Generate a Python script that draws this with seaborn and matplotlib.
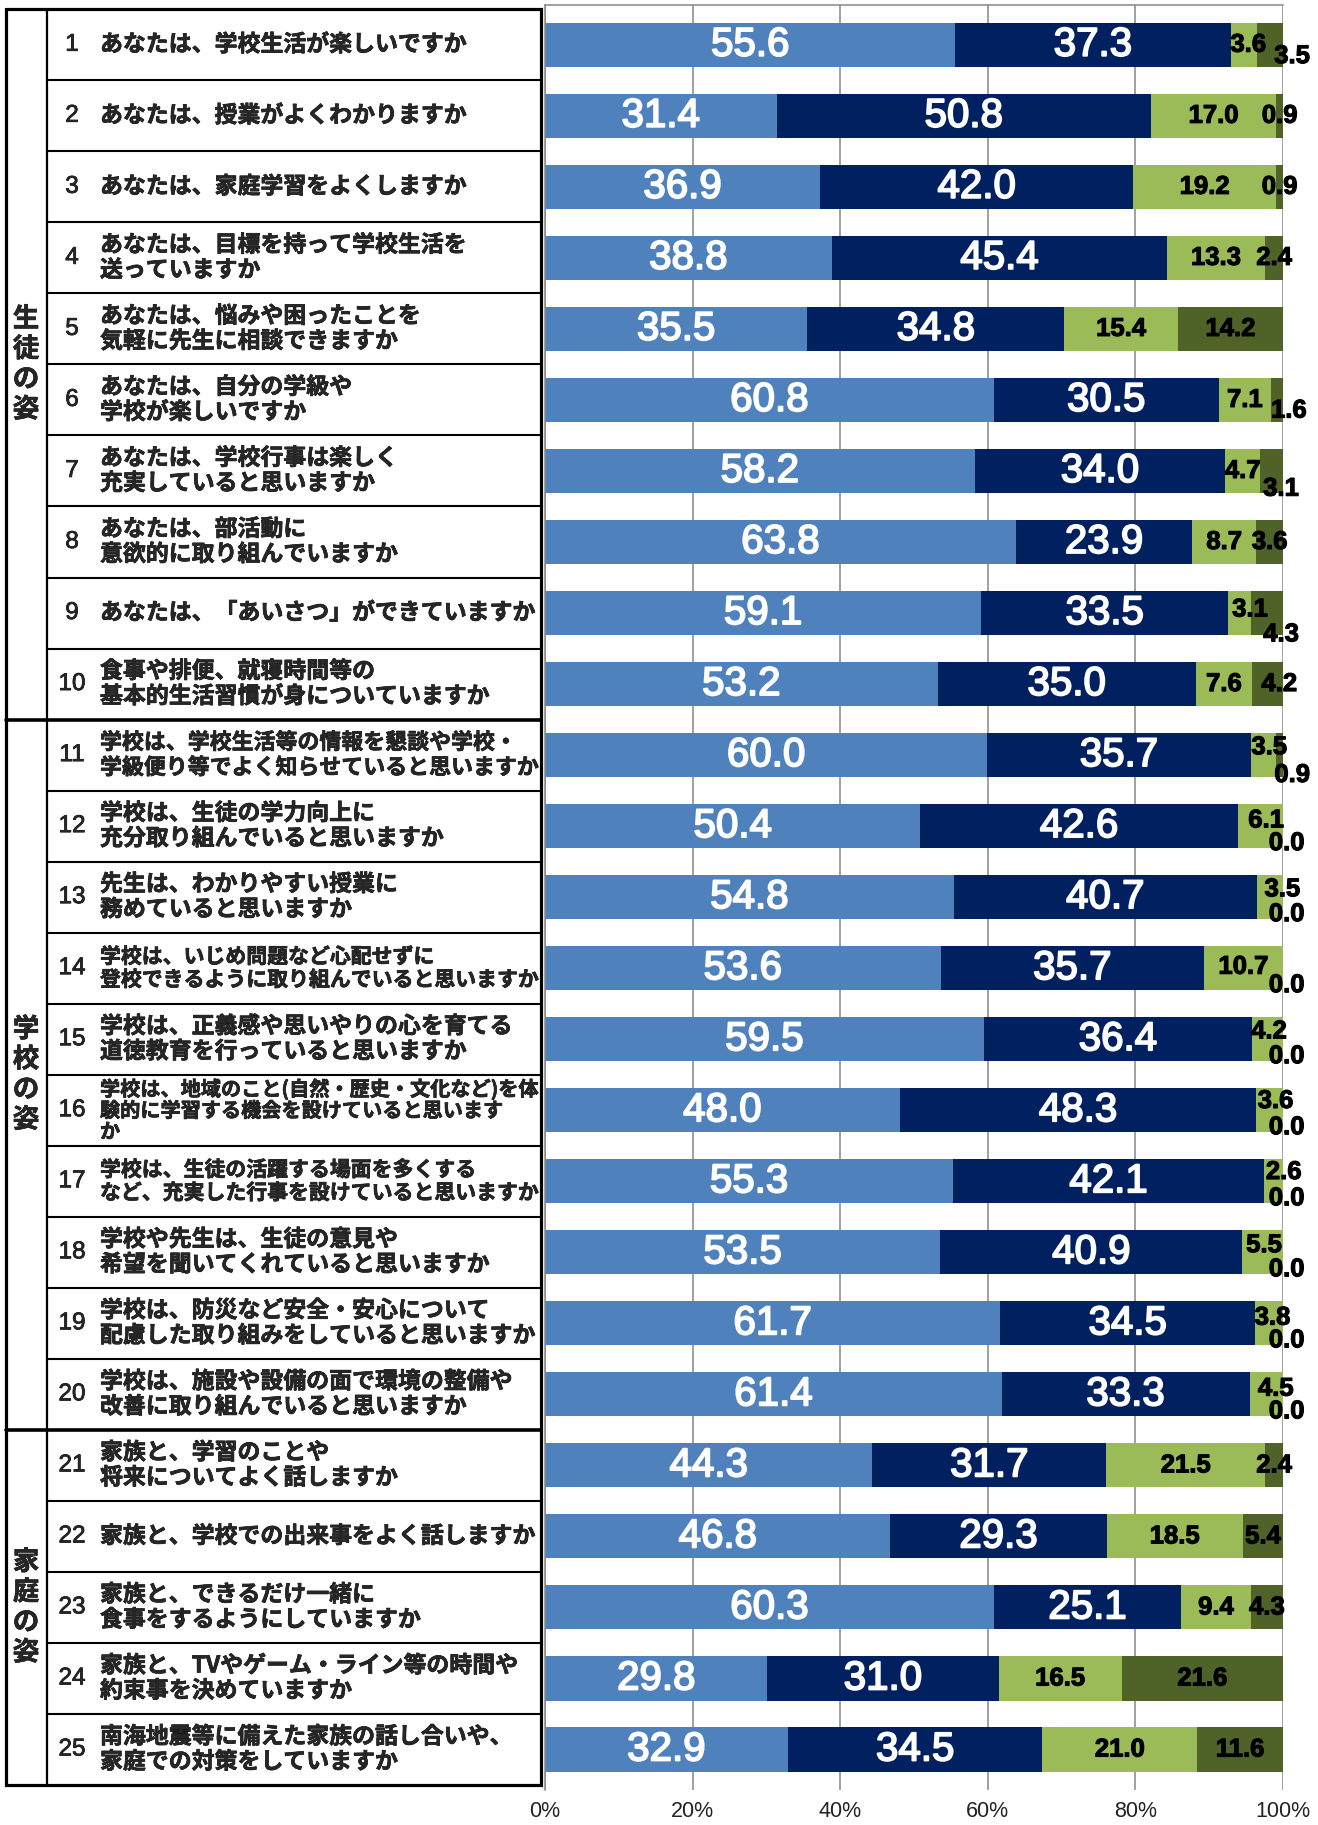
import matplotlib
matplotlib.use('Agg')
import matplotlib.pyplot as plt
import matplotlib.patheffects as pe
import seaborn as sns
import pandas as pd
from matplotlib.patches import Rectangle

# 質問項目
numbers = [str(n) for n in range(1, 26)]
questions = [
    'あなたは、学校生活が楽しいですか',
    'あなたは、授業がよくわかりますか',
    'あなたは、家庭学習をよくしますか',
    'あなたは、目標を持って学校生活を\n送っていますか',
    'あなたは、悩みや困ったことを\n気軽に先生に相談できますか',
    'あなたは、自分の学級や\n学校が楽しいですか',
    'あなたは、学校行事は楽しく\n充実していると思いますか',
    'あなたは、部活動に\n意欲的に取り組んでいますか',
    'あなたは、「あいさつ」ができていますか',
    '食事や排便、就寝時間等の\n基本的生活習慣が身についていますか',
    '学校は、学校生活等の情報を懇談や学校・\n学級便り等でよく知らせていると思いますか',
    '学校は、生徒の学力向上に\n充分取り組んでいると思いますか',
    '先生は、わかりやすい授業に\n務めていると思いますか',
    '学校は、いじめ問題など心配せずに\n登校できるように取り組んでいると思いますか',
    '学校は、正義感や思いやりの心を育てる\n道徳教育を行っていると思いますか',
    '学校は、地域のこと(自然・歴史・文化など)を体\n験的に学習する機会を設けていると思います\nか',
    '学校は、生徒の活躍する場面を多くする\nなど、充実した行事を設けていると思いますか',
    '学校や先生は、生徒の意見や\n希望を聞いてくれていると思いますか',
    '学校は、防災など安全・安心について\n配慮した取り組みをしていると思いますか',
    '学校は、施設や設備の面で環境の整備や\n改善に取り組んでいると思いますか',
    '家族と、学習のことや\n将来についてよく話しますか',
    '家族と、学校での出来事をよく話しますか',
    '家族と、できるだけ一緒に\n食事をするようにしていますか',
    '家族と、TVやゲーム・ライン等の時間や\n約束事を決めていますか',
    '南海地震等に備えた家族の話し合いや、\n家庭での対策をしていますか',
]
group_names = ['生徒の姿', '学校の姿', '家庭の姿']
group_sizes = [10, 10, 5]

# 回答の割合 (%)
agree = [55.6, 31.4, 36.9, 38.8, 35.5, 60.8, 58.2, 63.8, 59.1, 53.2,
         60.0, 50.4, 54.8, 53.6, 59.5, 48.0, 55.3, 53.5, 61.7, 61.4,
         44.3, 46.8, 60.3, 29.8, 32.9]
some_agree = [37.3, 50.8, 42.0, 45.4, 34.8, 30.5, 34.0, 23.9, 33.5, 35.0,
              35.7, 42.6, 40.7, 35.7, 36.4, 48.3, 42.1, 40.9, 34.5, 33.3,
              31.7, 29.3, 25.1, 31.0, 34.5]
some_disagree = [3.6, 17.0, 19.2, 13.3, 15.4, 7.1, 4.7, 8.7, 3.1, 7.6,
                 3.5, 6.1, 3.5, 10.7, 4.2, 3.6, 2.6, 5.5, 3.8, 4.5,
                 21.5, 18.5, 9.4, 16.5, 21.0]
disagree = [3.5, 0.9, 0.9, 2.4, 14.2, 1.6, 3.1, 3.6, 4.3, 4.2,
            0.9, 0.0, 0.0, 0.0, 0.0, 0.0, 0.0, 0.0, 0.0, 0.0,
            2.4, 5.4, 4.3, 21.6, 11.6]

colors = ['#4F81BD', '#002060', '#9BBB59', '#4F6228']

# ラベルの位置調整 (横: %, 縦: 行)
nudge3 = {0: (0.6, 0), 8: (1.4, -0.05), 10: (0.8, -0.11), 11: (0.8, -0.08),
          12: (1.7, -0.11), 13: (0, -0.02), 14: (0.2, -0.11), 15: (0.8, -0.13),
          16: (1.4, -0.13), 17: (0.2, -0.1), 18: (0.5, -0.08), 19: (1.3, -0.08)}
nudge4 = {0: (3.0, 0.16), 5: (1.6, 0.15), 6: (1.3, 0.25), 8: (1.9, 0.3),
          9: (1.6, 0), 10: (1.7, 0.28)}
for r in range(11, 20):
    nudge4[r] = (0.5, 0.24)

df = pd.DataFrame({'q': numbers, 'a': agree, 'b': some_agree,
                   'c': some_disagree, 'd': disagree})
# 100%積み上げ (合計で正規化)
total = df[['a', 'b', 'c', 'd']].sum(axis=1)
for col in ['a', 'b', 'c', 'd']:
    df[col + '_pct'] = df[col] / total * 100
df['c1'] = df['a_pct']
df['c2'] = df['c1'] + df['b_pct']
df['c3'] = df['c2'] + df['c_pct']
df['c4'] = df['c3'] + df['d_pct']

sns.set_style('white')
plt.rcParams['font.family'] = ['Liberation Sans', 'Noto Sans CJK JP', 'DejaVu Sans']

W, H = 1318, 1825
fig = plt.figure(figsize=(W / 100, H / 100), dpi=100)
top_px, bot_px = 5, 1790
ax = fig.add_axes([545 / W, 1 - bot_px / H, (1283 - 545) / W, (bot_px - top_px) / H])

for col, color in zip(['c4', 'c3', 'c2', 'c1'], colors[::-1]):
    sns.barplot(data=df, x=col, y='q', color=color, orient='h', width=0.62,
                saturation=1, errorbar=None, linewidth=0, ax=ax)

ax.set_xlim(0, 100)
ax.set_ylim(24.57, -0.56)
ax.set_xticks([0, 20, 40, 60, 80, 100])
ax.set_xticklabels(['0%', '20%', '40%', '60%', '80%', '100%'], fontsize=15.5, color='#222222')
ax.tick_params(axis='x', length=0, pad=8)
ax.tick_params(axis='y', length=0)
ax.set_yticklabels([])
ax.set_xlabel('')
ax.set_ylabel('')
ax.xaxis.grid(True, color='#868686', lw=1.1)
ax.set_axisbelow(True)
for s in ['right', 'bottom']:
    ax.spines[s].set_visible(False)
for s in ['top', 'left']:
    ax.spines[s].set_color('#868686')
    ax.spines[s].set_linewidth(1.1)

# 数値ラベル
white_fx = [pe.withStroke(linewidth=1.3, foreground='white')]
black_fx = [pe.withStroke(linewidth=0.8, foreground='black')]
segs = ['a', 'b', 'c', 'd']
for i in range(len(numbers)):
    left = 0
    for k, col in enumerate(segs):
        v = df.loc[i, col]
        w = df.loc[i, col + '_pct']
        x = left + w / 2
        if k < 2:
            ax.text(x, i, f'{v:.1f}', ha='center', va='center', color='white',
                    fontsize=29, path_effects=white_fx)
        else:
            dx, dy = (nudge3 if k == 2 else nudge4).get(i, (0, 0))
            ax.text(x + dx, i + dy, f'{v:.1f}', ha='center', va='center',
                    color='black', fontsize=18.5, fontweight='bold', clip_on=False,
                    path_effects=black_fx)
        left += w

# 左側の表
ax_t = fig.add_axes([6 / W, 1 - bot_px / H, (541 - 6) / W, (bot_px - top_px) / H], sharey=ax)
ax_t.set_xlim(6, 541)
ax_t.axis('off')
n = len(numbers)
ax_t.plot([6, 541, 541, 6, 6], [-0.5, -0.5, n - 0.5, n - 0.5, -0.5], color='black',
          lw=2.3, clip_on=False, solid_joinstyle='miter')
ax_t.plot([47, 47], [-0.5, n - 0.5], color='black', lw=1.6, clip_on=False)
bounds = []
acc = 0
for g in group_sizes:
    bounds.append((acc, acc + g))
    acc += g
group_edges = [b[1] - 0.5 for b in bounds[:-1]]
for i in range(n - 1):
    yb = i + 0.5
    if yb in group_edges:
        ax_t.plot([6, 541], [yb, yb], color='black', lw=2.6, clip_on=False)
    else:
        ax_t.plot([47, 541], [yb, yb], color='black', lw=1.5, clip_on=False)

cjk_fx = [pe.withStroke(linewidth=0.45, foreground='black')]
for name, (a, b) in zip(group_names, bounds):
    ax_t.text(26, (a + b - 1) / 2, '\n'.join(name), ha='center', va='center',
              fontsize=19, fontweight='bold', linespacing=1.15,
              family=['Noto Sans CJK JP', 'DejaVu Sans'], path_effects=cjk_fx)

q_texts = []
for i, (num, q) in enumerate(zip(numbers, questions)):
    ax_t.text(72, i, num, ha='center', va='center', fontsize=17.5,
              path_effects=[pe.withStroke(linewidth=0.5, foreground='black')])
    t = ax_t.text(100, i, q, ha='left', va='center', fontsize=16.5, fontweight='bold',
                  linespacing=1.12 if q.count('\n') < 2 else 1.0,
                  family=['Noto Sans CJK JP', 'DejaVu Sans'], clip_on=True,
                  path_effects=cjk_fx)
    cell = Rectangle((47, i - 0.5), 494, 1.0, transform=ax_t.transData)
    t.set_clip_path(cell)
    q_texts.append(t)

# はみ出す行は縮小
fig.canvas.draw()
renderer = fig.canvas.get_renderer()
max_w = 438
for t in q_texts:
    w = t.get_window_extent(renderer).width
    if w > max_w:
        t.set_fontsize(t.get_fontsize() * max_w / w)

fig.savefig('out.png', dpi=100)
